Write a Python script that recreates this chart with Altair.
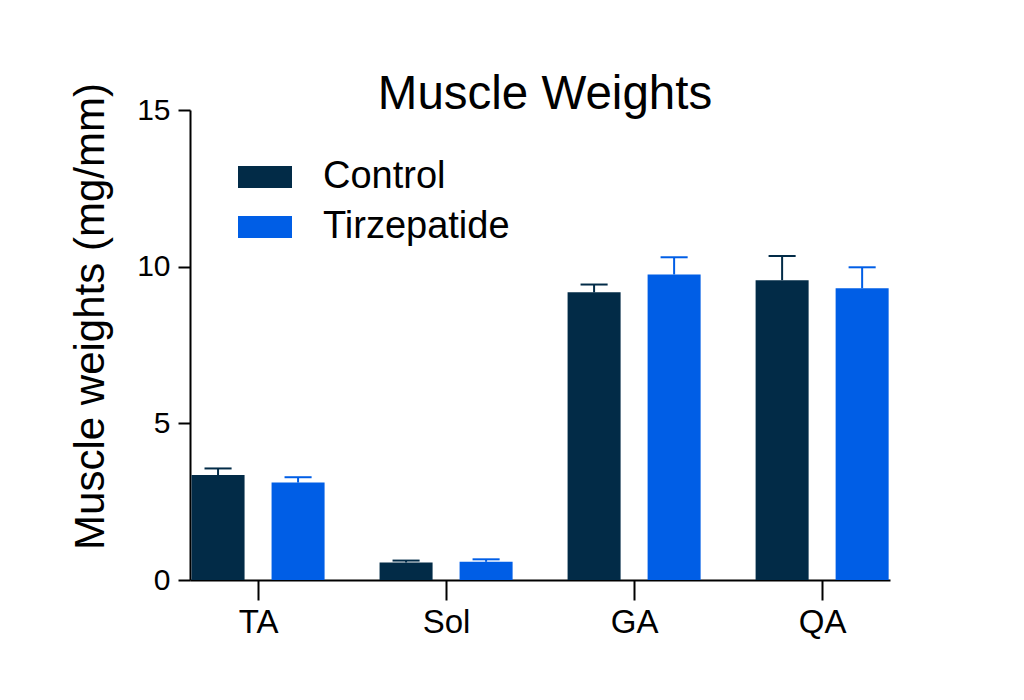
import altair as alt
import pandas as pd

muscles = ["TA", "Sol", "GA", "QA"]
groups = ["Control", "Tirzepatide"]
control_mean = [3.35, 0.56, 9.18, 9.57]
control_err = [0.21, 0.06, 0.25, 0.77]
tirz_mean = [3.11, 0.58, 9.75, 9.31]
tirz_err = [0.17, 0.08, 0.55, 0.67]
colors = ["#022B47", "#005EE6"]

rows = []
for i, m in enumerate(muscles):
    rows.append({"muscle": m, "idx": i, "group": groups[0], "gi": 0,
                 "mean": control_mean[i], "upper": control_mean[i] + control_err[i]})
    rows.append({"muscle": m, "idx": i, "group": groups[1], "gi": 1,
                 "mean": tirz_mean[i], "upper": tirz_mean[i] + tirz_err[i]})
df = pd.DataFrame(rows)

FONT = "Liberation Sans, Arial, Helvetica"
OFF = 0.2128   # half distance between paired bar centres (category units)
HALF = 0.141   # half bar width
CAP = 0.072    # half cap width

label_expr = "[" + ",".join(f"'{m}'" for m in muscles) + "][datum.value]"
x_scale = alt.Scale(domain=[-0.362, 3.361], nice=False, zero=False)
x_axis = alt.Axis(title=None, values=list(range(len(muscles))), labelExpr=label_expr,
                  grid=False, labelAngle=0, labelFontSize=33, labelFont=FONT,
                  labelColor="black", tickSize=20, tickWidth=2, tickColor="black",
                  domainWidth=2, domainColor="black", labelPadding=6, labelFlush=False)
color_scale = alt.Scale(domain=groups, range=colors)

y_scale = alt.Scale(domain=[0, 15], nice=False)
y_axis = alt.Axis(title="Muscle weights (mg/mm)", values=[0, 5, 10, 15], grid=False,
                  labelFontSize=30, labelFont=FONT, labelColor="black", labelPadding=8,
                  tickSize=12, tickWidth=2, tickColor="black", domainWidth=2, domainColor="black",
                  titleFontSize=42, titleFont=FONT, titleFontWeight="normal", titleColor="black",
                  titleX=-87, titleY=206, titleBaseline="alphabetic", titleAlign="center")

base = alt.Chart(df).transform_calculate(
    c=f"datum.idx + (datum.gi == 0 ? -{OFF} : {OFF})"
).transform_calculate(
    x0=f"datum.c - {HALF}", x1=f"datum.c + {HALF}",
    k0=f"datum.c - {CAP}", k1=f"datum.c + {CAP}"
)

bars = base.mark_rect().encode(
    x=alt.X("x0:Q", scale=x_scale, axis=x_axis),
    x2="x1:Q",
    y=alt.Y("mean:Q", scale=y_scale, axis=y_axis),
    y2=alt.Y2(datum=0),
    color=alt.Color("group:N", scale=color_scale, sort=groups,
                    legend=alt.Legend(title=None, orient="none", legendX=48, legendY=40,
                                      labelFontSize=38, labelFont=FONT, labelColor="black",
                                      labelLimit=400,
                                      symbolType="M-1,-0.4074H1V0.4074H-1Z", symbolSize=2916,
                                      symbolStrokeWidth=0, labelOffset=31, rowPadding=4,
                                      padding=0)),
)

rules = base.mark_rule(strokeWidth=2).encode(
    x="c:Q",
    y="mean:Q",
    y2="upper:Q",
    color=alt.Color("group:N", scale=color_scale, sort=groups, legend=None),
)

caps = base.mark_rule(strokeWidth=2).encode(
    x="k0:Q",
    x2="k1:Q",
    y="upper:Q",
    color=alt.Color("group:N", scale=color_scale, sort=groups, legend=None),
)

chart = alt.layer(bars, rules, caps).properties(
    width=700, height=470,
    title=alt.TitleParams("Muscle Weights", fontSize=47.5, font=FONT, fontWeight="normal",
                          color="black", frame="group", anchor="middle", offset=2,
                          baseline="alphabetic", dx=5, dy=76),
    autosize=alt.AutoSizeParams(type="none"),
    padding={"left": 182, "top": 102, "right": 60, "bottom": 100},
    background="white",
).configure_view(stroke=None, strokeWidth=0)

chart.save("out.html", embed_options={"renderer": "svg", "actions": False})
